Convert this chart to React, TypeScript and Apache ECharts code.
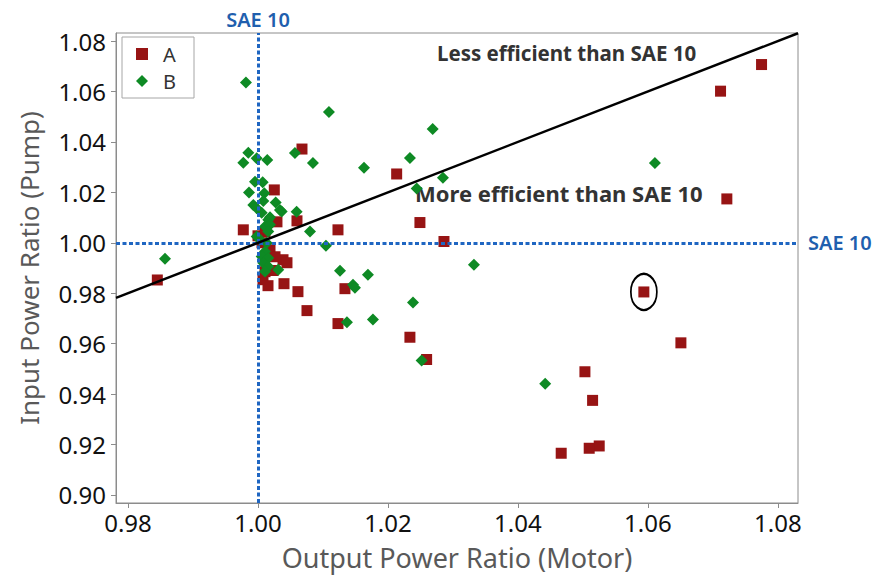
import React, { useEffect, useRef } from "react";
import * as echarts from "echarts";

// Series A (red squares): [output power ratio (motor), input power ratio (pump)]
const seriesA: number[][] = [
  [0.98451, 0.98525], [0.99774, 1.00514], [1.00677, 1.03718], [1.00251, 1.02097],
  [1.006, 1.0087], [1.01231, 1.00514], [1.02134, 1.02729], [1.02492, 1.00803],
  [1.02862, 1.00051], [1.07118, 1.06013], [1.07749, 1.07069], [1.07215, 1.0174],
  [1.05938, 0.9805], [1.06508, 0.96032], [1.05031, 0.94885], [1.05149, 0.9375],
  [1.05251, 0.91942], [1.05097, 0.91851], [1.04666, 0.91653], [1.02338, 0.96254],
  [1.02595, 0.95372], [1.01231, 0.96796], [1.01338, 0.9818], [1.00754, 0.9731],
  [1.00615, 0.98062], [1.004, 0.98378], [1.00385, 0.99328], [1.00446, 0.99209],
  [1.00292, 1.00831], [1.00108, 1.00435], [1.00062, 1.0], [1.00185, 0.99723],
  [1.00262, 0.99446], [1.00231, 0.98901], [1.00108, 0.98853], [1.00077, 0.98536],
  [1.00154, 0.98299], [1.0, 1.00277],
];

// Series B (green diamonds)
const seriesB: number[][] = [
  [0.99774, 1.03176], [0.99851, 1.03572], [0.9998, 1.0335], [1.00143, 1.03283],
  [0.99954, 1.02425], [1.00072, 1.02401], [0.99862, 1.0199], [1.00097, 1.01966],
  [1.00082, 1.01661], [1.00272, 1.01594], [0.99928, 1.01503], [0.9998, 1.01373],
  [1.00338, 1.01305], [1.00057, 1.01187], [1.00185, 1.01017], [1.00365, 1.01238],
  [1.00158, 1.0091], [1.00108, 1.00645], [1.00185, 1.00712], [1.00158, 1.00447],
  [0.9998, 1.00249], [1.00031, 1.00119], [1.00134, 0.99988], [1.00108, 0.99656],
  [1.00057, 0.99458], [1.00158, 0.99395], [1.00082, 0.99197], [1.00158, 0.99063],
  [1.00108, 0.98865], [1.00312, 0.98932],
  [0.98569, 0.99367], [0.99815, 1.06357], [1.00569, 1.0356], [1.01092, 1.05182],
  [1.00846, 1.03165], [1.01631, 1.02979], [1.02338, 1.03362], [1.02688, 1.0451],
  [1.02846, 1.02583], [1.02442, 1.02148], [1.06108, 1.03165], [1.03323, 0.9913],
  [1.0442, 0.94411], [1.02518, 0.95332], [1.02385, 0.97627], [1.01769, 0.96954],
  [1.01462, 0.98339], [1.01492, 0.9822], [1.01692, 0.98734], [1.01369, 0.96847],
  [1.01262, 0.98892], [1.01046, 0.99881], [1.008, 1.00447], [1.00595, 1.01226],
];

const xTicks = [0.98, 1.0, 1.02, 1.04, 1.06, 1.08];
const yTicks = [0.9, 0.92, 0.94, 0.96, 0.98, 1.0, 1.02, 1.04, 1.06, 1.08];
const xRange = [0.97815, 1.0831];
const yRange = [0.8968, 1.0832];
const referenceValue = 1.0; // SAE 10
const circledPoint = [1.05938, 0.9805];
const equalityLine = [[xRange[0], xRange[0]], [xRange[1], xRange[1]]];

const FONT = "'Noto Sans', 'Open Sans', sans-serif";

export default function App() {
  const ref = useRef<HTMLDivElement>(null);
  useEffect(() => {
    if (!ref.current) return;
    const chart = echarts.init(ref.current, null, { renderer: "svg" });
    const axisCommon = {
      axisLine: { show: true, lineStyle: { color: "#8c8c8c", width: 1 } },
      axisTick: { show: true, length: 5, lineStyle: { color: "#8c8c8c" } },
      splitLine: { show: false },
    };
    chart.setOption({
      animation: false,
      backgroundColor: "#ffffff",
      textStyle: { fontFamily: FONT },
      grid: {
        left: 116, right: 77, top: 33, bottom: 72,
        show: true, borderColor: "#8c8c8c", borderWidth: 1,
      },
      legend: {
        left: 122, top: 37, orient: "vertical",
        itemWidth: 12, itemHeight: 12, itemGap: 7,
        padding: [7, 18, 7, 14],
        borderColor: "#a6a6a6", borderWidth: 1,
        textStyle: { fontSize: 20, color: "#333", fontFamily: FONT, padding: [0, 0, 0, 10] },
        data: ["A", "B"],
      },
      xAxis: {
        type: "value", min: xRange[0], max: xRange[1],
        name: "Output Power Ratio (Motor)", nameLocation: "middle", nameGap: 41,
        nameTextStyle: { fontSize: 27, color: "#595959", fontFamily: FONT },
        ...axisCommon,
        axisTick: { ...axisCommon.axisTick, customValues: xTicks },
        axisLabel: {
          customValues: xTicks, fontSize: 24, color: "#111", margin: 7,
          formatter: (v: number) => v.toFixed(2),
        },
      },
      yAxis: {
        type: "value", min: yRange[0], max: yRange[1],
        name: "Input Power Ratio (Pump)", nameLocation: "middle", nameGap: 74,
        nameTextStyle: { fontSize: 26, color: "#595959", fontFamily: FONT },
        ...axisCommon,
        axisTick: { ...axisCommon.axisTick, customValues: yTicks },
        axisLabel: {
          customValues: yTicks, fontSize: 24, color: "#111", margin: 10,
          formatter: (v: number) => v.toFixed(2),
        },
      },
      series: [
        {
          name: "ref", type: "line", data: [], silent: true,
          markLine: {
            silent: true, symbol: ["none", "none"],
            lineStyle: { color: "#1f66c2", width: 3, type: [4, 2.5] },
            label: {
              show: true, position: "end", formatter: "SAE 10",
              color: "#1f5fae", fontSize: 20, fontWeight: 600, fontFamily: FONT,
            },
            data: [
              { xAxis: referenceValue, label: { distance: 4 } },
              { yAxis: referenceValue, label: { distance: 10 } },
            ],
          },
        },
        {
          name: "A", type: "scatter", symbol: "rect", symbolSize: 11,
          itemStyle: { color: "#971414", opacity: 1 }, data: seriesA,
          markPoint: {
            silent: true, symbol: "circle", symbolSize: [26, 36],
            itemStyle: { color: "rgba(0,0,0,0)", borderColor: "#000", borderWidth: 2 },
            label: { show: false },
            data: [{ coord: circledPoint }],
          },
        },
        {
          name: "B", type: "scatter", symbol: "diamond", symbolSize: 12,
          itemStyle: { color: "#0e8a24", opacity: 1 }, data: seriesB,
        },
        {
          name: "y=x", type: "line", data: equalityLine, symbol: "none", silent: true,
          lineStyle: { color: "#000", width: 2.5 }, z: 5,
        },
      ],
      graphic: [
        {
          type: "text", left: 437, top: 42,
          style: { text: "Less efficient than SAE 10", fill: "#333", fontSize: 20.5, fontWeight: "bold", fontFamily: FONT },
        },
        {
          type: "text", left: 415, top: 182,
          style: { text: "More efficient than SAE 10", fill: "#333", fontSize: 22, fontWeight: "bold", fontFamily: FONT },
        },
      ],
    });
    return () => chart.dispose();
  }, []);
  return (
    <div
      ref={ref}
      style={{ position: "absolute", left: 0, top: 0, width: 875, height: 576 }}
    />
  );
}
